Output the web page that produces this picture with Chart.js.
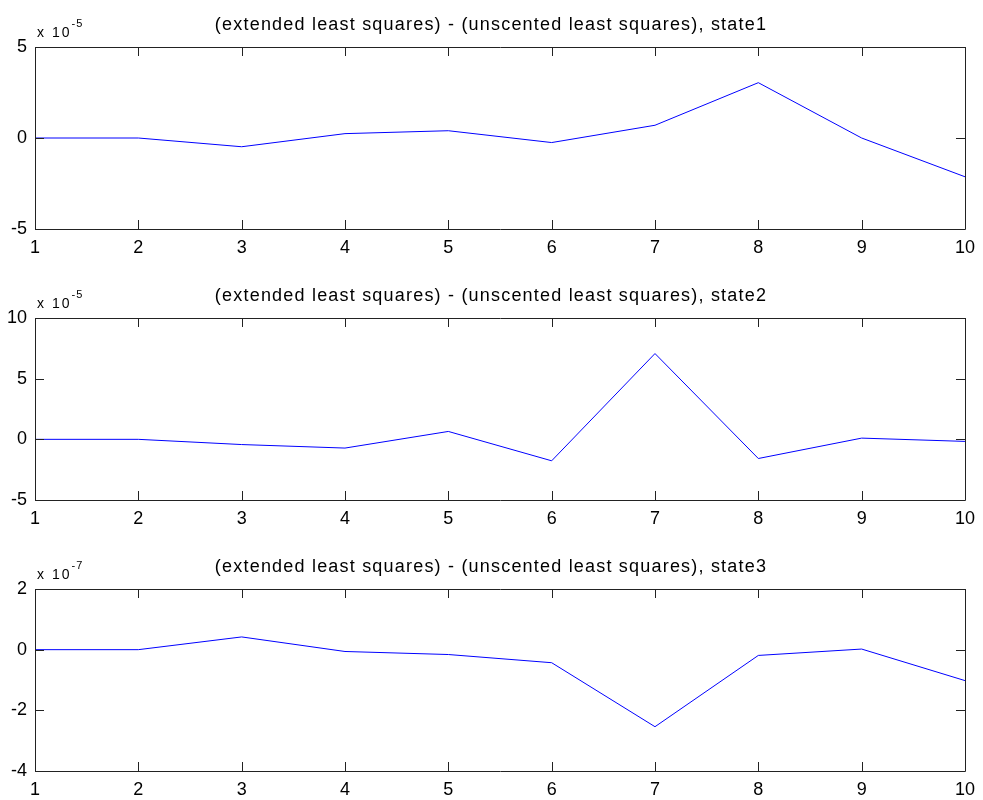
<!DOCTYPE html>
<html lang="en">

<head>
    <meta charset="UTF-8">
    <title>extended - unscented least squares</title>
    <style>
        body {
            margin: 0;
            padding: 0;
            background-color: #ffffff;
            overflow: hidden;
            font-family: "Liberation Sans", Arial, sans-serif;
        }

        .plot {
            position: absolute;
            left: 0;
            width: 983px;
            height: 271px;
        }
    </style>
</head>

<body>

    <div class="plot" style="top: 0px;"><canvas id="chart1"></canvas></div>
    <div class="plot" style="top: 271px;"><canvas id="chart2"></canvas></div>
    <div class="plot" style="top: 542px;"><canvas id="chart3"></canvas></div>

    <script src="https://cdn.jsdelivr.net/npm/chart.js"></script>

    <script>
        // x positions (sample index)
        const xValues = [1, 2, 3, 4, 5, 6, 7, 8, 9, 10];

        // differences, in units of the exponent shown on each axis
        const state1 = [0, 0.0, -0.48, 0.24, 0.4, -0.25, 0.7, 3.04, 0.0, -2.13];    // x 10^-5
        const state2 = [0, 0.0, -0.43, -0.72, 0.65, -1.77, 7.07, -1.58, 0.1, -0.17]; // x 10^-5
        const state3 = [0, 0.0, 0.42, -0.06, -0.16, -0.43, -2.54, -0.19, 0.02, -1.02]; // x 10^-7

        const titles = [
            '(extended least squares) - (unscented least squares), state1',
            '(extended least squares) - (unscented least squares), state2',
            '(extended least squares) - (unscented least squares), state3'
        ];
        const exponents = ['-5', '-5', '-7'];

        const FONT = '"Liberation Sans", Arial, sans-serif';

        // box, inward ticks on all four sides, title and exponent label (matlab look)
        const matlabAxes = {
            id: 'matlabAxes',
            afterDatasetsDraw(chart, args, opts) {
                const ctx = chart.ctx;
                const a = chart.chartArea;
                const xs = chart.scales.x;
                const ys = chart.scales.y;
                const tl = 9;
                ctx.save();
                ctx.strokeStyle = '#222222';
                ctx.lineWidth = 1;
                ctx.beginPath();
                ctx.rect(Math.round(a.left) + 0.5, Math.round(a.top) + 0.5,
                    Math.round(a.right - a.left), Math.round(a.bottom - a.top));
                xs.ticks.forEach(t => {
                    const px = Math.round(xs.getPixelForValue(t.value)) + 0.5;
                    ctx.moveTo(px, a.bottom);
                    ctx.lineTo(px, a.bottom - tl);
                    ctx.moveTo(px, a.top);
                    ctx.lineTo(px, a.top + tl);
                });
                ys.ticks.forEach(t => {
                    const py = Math.round(ys.getPixelForValue(t.value)) + 0.5;
                    ctx.moveTo(a.left, py);
                    ctx.lineTo(a.left + tl, py);
                    ctx.moveTo(a.right, py);
                    ctx.lineTo(a.right - tl, py);
                });
                ctx.stroke();

                ctx.fillStyle = '#000000';
                ctx.font = '18px ' + FONT;
                ctx.letterSpacing = '1.2px';
                ctx.textAlign = 'center';
                ctx.textBaseline = 'middle';
                ctx.fillText(opts.title, 491, a.top - 22);

                ctx.textAlign = 'left';
                ctx.textBaseline = 'alphabetic';
                ctx.font = '14px ' + FONT;
                ctx.letterSpacing = '2px';
                ctx.fillText('x 10', 37, a.top - 10);
                const w = ctx.measureText('x 10').width;
                ctx.font = '11px ' + FONT;
                ctx.letterSpacing = '1px';
                ctx.fillText(opts.exponent, 37 + w, a.top - 20);
                ctx.restore();
            }
        };

        function makeChart(canvasId, values, yMin, yMax, yStep, title, exponent) {
            const ctx = document.getElementById(canvasId).getContext('2d');
            return new Chart(ctx, {
                type: 'line',
                data: {
                    datasets: [{
                        data: xValues.map((x, i) => ({ x: x, y: values[i] })),
                        borderColor: '#0000ff',
                        borderWidth: 1,
                        pointRadius: 0,
                        fill: false,
                        tension: 0
                    }]
                },
                options: {
                    responsive: true,
                    maintainAspectRatio: false,
                    animation: false,
                    layout: {
                        padding: { left: 0, right: 12, top: 47, bottom: 12 }
                    },
                    plugins: {
                        legend: { display: false },
                        tooltip: { enabled: false },
                        matlabAxes: { title: title, exponent: exponent }
                    },
                    scales: {
                        x: {
                            type: 'linear',
                            min: 1,
                            max: 10,
                            grid: { display: false, drawTicks: false },
                            border: { display: false },
                            ticks: {
                                stepSize: 1,
                                padding: 8,
                                maxRotation: 0,
                                color: '#000000',
                                font: { family: FONT, size: 18 }
                            },
                            afterFit(scale) { scale.height = 30; }
                        },
                        y: {
                            min: yMin,
                            max: yMax,
                            grid: { display: false, drawTicks: false },
                            border: { display: false },
                            ticks: {
                                stepSize: yStep,
                                padding: 8,
                                color: '#000000',
                                font: { family: FONT, size: 18 }
                            },
                            afterFit(scale) { scale.width = 35; }
                        }
                    }
                },
                plugins: [matlabAxes]
            });
        }

        makeChart('chart1', state1, -5, 5, 5, titles[0], exponents[0]);
        makeChart('chart2', state2, -5, 10, 5, titles[1], exponents[1]);
        makeChart('chart3', state3, -4, 2, 2, titles[2], exponents[2]);
    </script>

</body>

</html>
